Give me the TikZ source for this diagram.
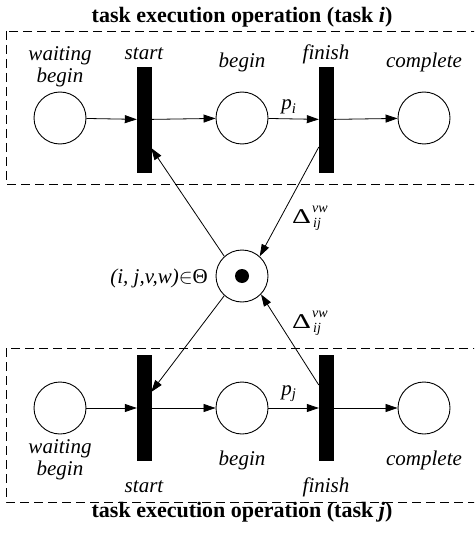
\documentclass[tikz,border=0pt]{standalone}
\usepackage{amsmath}
\usepackage{fontspec}
\setmainfont{Liberation Serif}
\usetikzlibrary{arrows.meta,positioning,calc}

% delay symbol with stacked indices
\newcommand{\precdelta}{%
  \scalebox{1.4}[1]{\upshape Δ}\kern1pt
  \rlap{\raisebox{11pt}{\fontsize{14}{14}\selectfont vw}}%
  \raisebox{-4pt}{\fontsize{14}{14}\selectfont\kern1pt ij}}

\begin{document}
\begin{tikzpicture}[x=1pt,y=-1pt,
  place/.style={
    draw, circle, minimum size=52pt, inner sep=0pt, line width=0.9pt
  },
  trans/.style={
    draw, fill=black, rectangle, minimum width=14pt, minimum height=105pt,
    inner sep=0pt
  },
  lbl/.style={font=\fontsize{21}{22}\selectfont\itshape, align=center,
    inner sep=0pt, anchor=base},
  title/.style={font=\fontsize{22}{24}\selectfont\bfseries, inner sep=0pt,
    anchor=base},
  arc/.style={-{Triangle[length=12pt,width=8pt]}, line width=0.8pt},
  group/.style={line width=0.9pt, dash pattern=on 9pt off 5pt}
]
\useasboundingbox (0,0) rectangle (474,540);
\clip (0,0) rectangle (474,540);

% the two task groups
\draw[group] (6,31) rectangle (482,184);
\draw[group] (6,348) rectangle (482,502);
\node[title] (title-i) at (242,23)  {task execution operation (task \textit{i})};
\node[title] (title-j) at (242,517) {task execution operation (task \textit{j})};

% task i
\node[place] (wait-i)  at (60,118)  {};
\node[trans] (start-i) at (144,119.5) {};
\node[place] (begin-i) at (242,118) {};
\node[trans] (fin-i)   at (326,119.5) {};
\node[place] (done-i)  at (424,118) {};

% base of a two-line label sits on its last line
\node[lbl] (l-wait-i)  at (60,83)  {waiting\\begin};
\node[lbl] (l-start-i) at (144,60) {start};
\node[lbl] (l-begin-i) at (242,68) {begin};
\node[lbl] (l-fin-i)   at (326,60) {finish};
\node[lbl] (l-done-i)  at (424,68) {complete};

% task j
\node[place] (wait-j)  at (60,408)  {};
\node[trans] (start-j) at (144,408) {};
\node[place] (begin-j) at (242,408) {};
\node[trans] (fin-j)   at (326,408) {};
\node[place] (done-j)  at (424,408) {};

\node[lbl] (l-wait-j)  at (60,475)  {waiting\\begin};
\node[lbl] (l-start-j) at (144,492) {start};
\node[lbl] (l-begin-j) at (242,465) {begin};
\node[lbl] (l-fin-j)   at (326,492) {finish};
\node[lbl] (l-done-j)  at (424,465) {complete};

% shared resource place with its token
\node[place] (res) at (242,276) {};
\fill (res.center) circle (7pt);
\node[lbl, anchor=base east] (l-res) at (208,283)
  {(\textit{i}, \textit{j},\textit{v},\textit{w})$\in${\upshape Θ}};

% flow inside each task
\foreach \t in {i,j} {
  \draw[arc] (wait-\t) -- (start-\t);
  \draw[arc] (start-\t) -- (begin-\t);
  \draw[arc] (begin-\t) -- (fin-\t);
  \draw[arc] (fin-\t) -- (done-\t);
}
\node[lbl] (l-p-i) at (289,110) {p$_{\textit{i}}$};
\node[lbl] (l-p-j) at (289,395) {p$_{\textit{j}}$};

% precedence through the resource place
\draw[arc] ([yshift=-27.5pt]fin-i.west) -- (res.48);
\draw[arc] (res.132) -- ([yshift=-28.5pt]start-i.east);
\draw[arc] (res.228) -- ([yshift=16pt]start-j.east);
\draw[arc] ([yshift=23pt]fin-j.west) -- (res.316);
\node[lbl, anchor=base west] (l-d-i) at (292,223) {\precdelta};
\node[lbl, anchor=base west] (l-d-j) at (292,328) {\precdelta};

\end{tikzpicture}
\end{document}
